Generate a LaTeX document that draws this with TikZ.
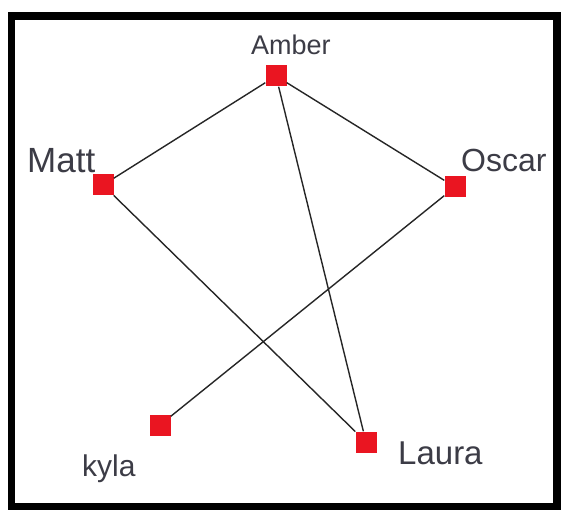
\documentclass[tikz,border=0pt]{standalone}
\usepackage{fontspec}
\setmainfont{Liberation Sans}
\definecolor{sqred}{HTML}{EA1521}
\definecolor{lbl}{HTML}{3C3C46}
\begin{document}
\begin{tikzpicture}[x=1pt,y=-1pt,
  vert/.style={draw=none,fill=sqred,minimum size=21pt,inner sep=0pt,rectangle},
  lab/.style={text=lbl,inner sep=0pt,anchor=base west},
  edge/.style={draw=black!85,line width=1.4pt}]
\useasboundingbox (0,0) rectangle (561,510);
\fill[white] (0,0) rectangle (561,510);
\draw[line width=7.5pt] (11.5,16) rectangle (557,506.5);
\node[vert] (amber) at (276,76) {};
\node[vert] (matt) at (103,185) {};
\node[vert] (oscar) at (455,187) {};
\node[vert] (kyla) at (160,425) {};
\node[vert] (laura) at (366,442) {};
\node[lab,font=\fontsize{27}{30}\selectfont] (lamber) at (251,55) {Amber};
\node[lab,font=\fontsize{35}{38}\selectfont] (lmatt) at (27,173) {Matt};
\node[lab,font=\fontsize{32}{34}\selectfont] (loscar) at (461,172) {Oscar};
\node[lab,font=\fontsize{30}{32}\selectfont] (lkyla) at (82,476) {kyla};
\node[lab,font=\fontsize{33}{35}\selectfont] (llaura) at (398,464) {Laura};
\draw[edge] (amber) -- (matt);
\draw[edge] (amber) -- (oscar);
\draw[edge] (amber) -- (laura);
\draw[edge] (matt) -- (laura);
\draw[edge] (oscar) -- (kyla);
\end{tikzpicture}
\end{document}
